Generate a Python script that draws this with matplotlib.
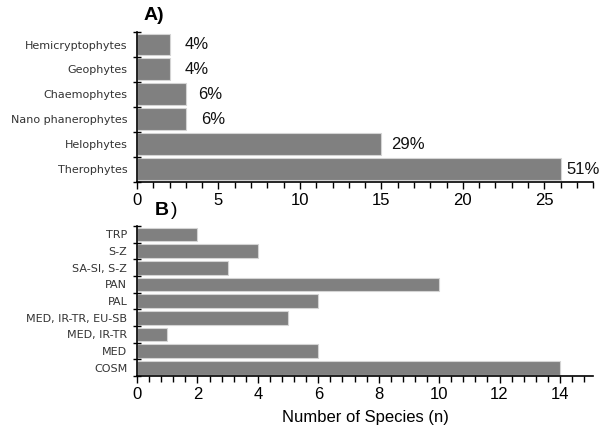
import matplotlib
matplotlib.use("Agg")
import matplotlib.pyplot as plt
from matplotlib.ticker import MultipleLocator, FixedLocator, NullFormatter
import numpy as np

plt.rcParams['font.family'] = ['Liberation Sans', 'DejaVu Sans']

# panel A - life forms
life_forms = ["Therophytes", "Helophytes", "Nano phanerophytes", "Chaemophytes",
              "Geophytes", "Hemicryptophytes"]
life_counts = [26, 15, 3, 3, 2, 2]
life_pct = ["51%", "29%", "6%", "6%", "4%", "4%"]
pct_x = [26.35, 15.6, 3.95, 3.75, 2.95, 2.95]

# panel B - chorotypes
choro = ["COSM", "MED", "MED, IR-TR", "MED, IR-TR, EU-SB", "PAL", "PAN",
         "SA-SI, S-Z", "S-Z", "TRP"]
choro_counts = [14, 6, 1, 5, 6, 10, 3, 4, 2]

bar_col = "#808080"
edge_col = "#d4d4d4"

fig = plt.figure(figsize=(6.01, 4.36), dpi=100)
axA = fig.add_axes([0.228, 0.5826, 0.759, 0.344])
axB = fig.add_axes([0.228, 0.1376, 0.759, 0.344])


def style_axis(ax, n, labels, major, minor):
    y = np.arange(n)
    ax.set_ylim(-0.5, n - 0.5)
    ax.yaxis.set_major_locator(FixedLocator(np.arange(n + 1) - 0.5))
    ax.yaxis.set_major_formatter(NullFormatter())
    ax.yaxis.set_minor_locator(FixedLocator(y))
    ax.set_yticklabels(labels, minor=True, fontsize=8, color="#333333",
                       family=['DejaVu Sans'])
    ax.tick_params(axis='y', which='minor', length=0, pad=7)
    ax.tick_params(axis='y', which='major', direction='inout', length=6, width=1)
    ax.xaxis.set_major_locator(MultipleLocator(major))
    ax.xaxis.set_minor_locator(MultipleLocator(minor))
    ax.tick_params(axis='x', which='major', direction='out', length=5, width=1,
                   labelsize=12, pad=3)
    ax.tick_params(axis='x', which='minor', direction='out', length=4, width=1)
    for s in ['top', 'right']:
        ax.spines[s].set_visible(False)
    for s in ['left', 'bottom']:
        ax.spines[s].set_linewidth(1.2)


axA.barh(np.arange(len(life_forms)), life_counts, height=0.88,
         color=bar_col, edgecolor=edge_col, linewidth=0.8)
axA.set_xlim(0, 28)
style_axis(axA, len(life_forms), life_forms, 5, 1)
for i, (p, xp) in enumerate(zip(life_pct, pct_x)):
    axA.text(xp, i, p, fontsize=12, va='center', ha='left', color="#111111")
fig.text(0.238, 0.965, "A)", fontsize=14, fontweight='bold', va='center', ha='left')

axB.barh(np.arange(len(choro)), choro_counts, height=0.82,
         color=bar_col, edgecolor=edge_col, linewidth=0.8)
axB.set_xlim(0, 15.1)
style_axis(axB, len(choro), choro, 2, 0.4)
axB.set_xlabel("Number of Species (n)", fontsize=12, labelpad=6)
fig.text(0.258, 0.518, "B", fontsize=14, fontweight='bold', va='center', ha='left')
fig.text(0.284, 0.518, ")", fontsize=14, va='center', ha='left')

fig.savefig("out.png", dpi=100)
